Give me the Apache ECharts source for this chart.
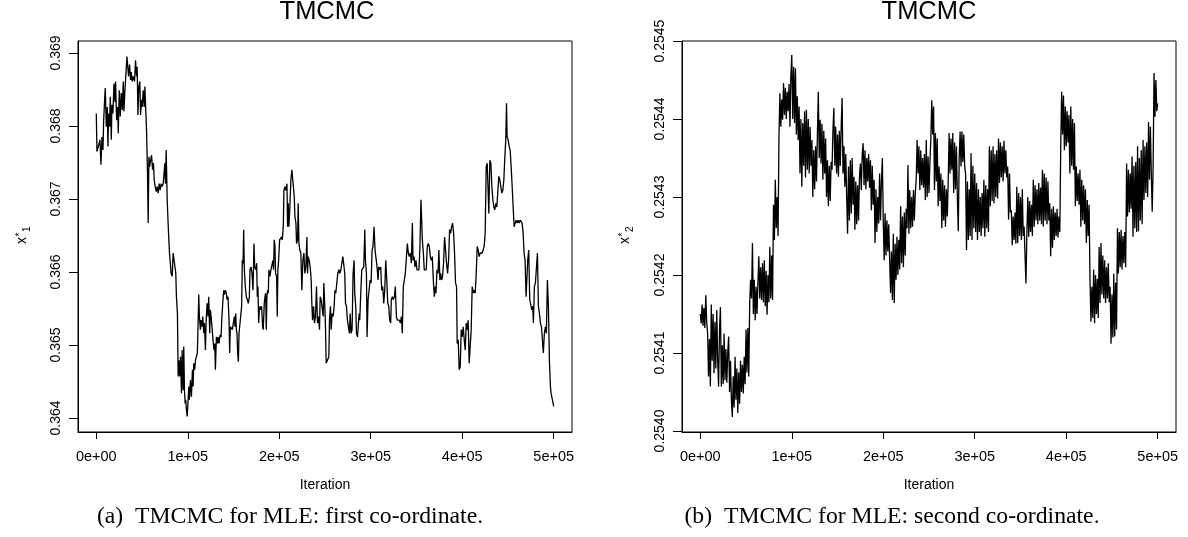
<!DOCTYPE html>
<html>
<head>
<meta charset="utf-8">
<script src="https://cdn.jsdelivr.net/npm/echarts@6/dist/echarts.min.js"></script>
<style>
  html, body { margin: 0; padding: 0; background: #fff; }
  #chart { width: 1188px; height: 537px; }
</style>
</head>
<body>
<div id="chart"></div>
<script>
// tick positions / labels
const xTicks = [0, 100000, 200000, 300000, 400000, 500000];
const y1Ticks = [0.364, 0.365, 0.366, 0.367, 0.368, 0.369];
const y2Ticks = [0.2540, 0.2541, 0.2542, 0.2543, 0.2544, 0.2545];
const titles = ['TMCMC', 'TMCMC'];
const captions = ['(a)\u2002TMCMC for MLE: first co-ordinate.', '(b)\u2002TMCMC for MLE: second co-ordinate.'];

// (a) first co-ordinate: iteration / value
const iter1 = [
  0, 700, 2500, 4000, 5100, 6200, 7300, 8000, 9100, 9800, 10900, 12000, 12700, 13500, 14500, 15300,
  16400, 17100, 18200, 19300, 20400, 21100, 22200, 23300, 24000, 25100, 26200, 27300, 28400, 29500,
  30200, 31300, 32400, 33500, 34500, 35300, 36400, 37500, 38200, 39300, 40400, 41800, 42900, 44000,
  44700, 45500, 46500, 47600, 48400, 49500, 50200, 51300, 52400, 53100, 53800, 54900, 56000, 56700,
  57500, 58200, 59300, 60400, 61500, 62500, 63300, 64400, 65500, 66500, 67600, 68700, 69800, 70900,
  72000, 73100, 74200, 74900, 75600, 76400, 77500, 78200, 79300, 80000, 81100, 81800, 82900, 84000,
  85100, 85800, 86900, 87600, 88700, 89500, 90200, 91300, 92000, 93100, 93800, 94900, 95600, 96400,
  97100, 97800, 98500, 99300, 100000, 101100, 101800, 102900, 104000, 105100, 105800, 106500, 107600,
  108400, 109500, 110500, 111300, 112000, 112700, 113800, 114500, 115600, 116400, 117500, 118200,
  119300, 120000, 121100, 122200, 122900, 124000, 124700, 125500, 126500, 127600, 128700, 129500,
  130200, 131300, 132400, 133100, 134200, 135300, 136400, 137100, 138200, 139300, 140000, 141100,
  142200, 142900, 144000, 145100, 145800, 146500, 147600, 148700, 149800, 150900, 151600, 152400,
  153100, 153800, 154500, 155300, 156000, 157100, 157800, 158900, 159600, 160400, 161100, 161800,
  162900, 164000, 165100, 166200, 167300, 168000, 169100, 170200, 171300, 172400, 173100, 174200,
  175300, 176000, 176700, 177500, 178200, 178900, 179600, 180700, 181800, 182500, 183600, 184400,
  185100, 185800, 186500, 187300, 188000, 188700, 189800, 190900, 192000, 193100, 193800, 194500,
  195300, 196000, 197100, 197800, 198500, 199300, 200400, 201500, 202500, 203300, 204400, 205100,
  206200, 207300, 208400, 209100, 209800, 210500, 211600, 212700, 213800, 214900, 215600, 216400,
  217100, 218200, 218900, 220000, 220700, 221500, 222500, 223600, 224700, 225800, 226900, 228000,
  229100, 230200, 230900, 231600, 232700, 233800, 234900, 235600, 236400, 237500, 238500, 239600,
  240700, 241800, 242900, 244000, 244700, 245800, 246900, 248000, 248700, 249800, 250500, 251300,
  252000, 253100, 254200, 254900, 256000, 256700, 257800, 258900, 260000, 260800, 261800, 262900,
  264000, 265100, 266200, 267300, 268400, 269500, 270600, 271600, 272400, 273500, 274500, 275600,
  276700, 277500, 278500, 279600, 280700, 281800, 282500, 283600, 284400, 285500, 286500, 287300,
  288000, 289100, 290200, 291300, 292400, 293500, 294200, 295300, 296000, 297100, 298200, 299300,
  300400, 301500, 302500, 303600, 304700, 305800, 306900, 308000, 308700, 309800, 310900, 312000,
  313100, 314200, 315300, 316400, 317500, 318600, 319700, 320700, 321800, 322500, 323600, 324700,
  325800, 326900, 328000, 329100, 330200, 331300, 332400, 333500, 334500, 335600, 336700, 337800,
  338900, 340000, 341100, 342200, 343300, 344400, 345500, 346200, 347300, 348400, 349500, 350500,
  351600, 352700, 353800, 354900, 355600, 356400, 357500, 358500, 359600, 360700, 361800, 362900,
  364000, 365100, 366200, 367300, 368400, 369500, 370600, 371300, 372400, 373500, 374500, 375600,
  376400, 377500, 378500, 379600, 380700, 381800, 382900, 384000, 385100, 386200, 387300, 388400,
  389500, 390600, 391600, 392700, 393800, 394500, 395600, 396700, 397800, 398900, 400000, 401100,
  402200, 403300, 404400, 405500, 406500, 407600, 408700, 409800, 410900, 412000, 413100, 414200,
  415300, 416400, 417500, 418500, 419600, 420700, 421800, 422900, 424000, 425100, 426200, 427300,
  428400, 429100, 430200, 431300, 432400, 433500, 434500, 435600, 436700, 437800, 438900, 440000,
  441100, 442200, 443300, 444400, 445500, 446600, 447600, 448400, 449100, 450200, 451300, 452400,
  453500, 454600, 455700, 456700, 457800, 458900, 460000, 461100, 462200, 463300, 464400, 465500,
  466600, 467600, 468700, 469800, 470600, 471600, 472700, 473800, 474900, 476000, 477100, 477800,
  478900, 480000, 481100, 482200, 483300, 484400, 485500, 486600, 487600, 488700, 489800, 490900,
  492000, 493100, 494200, 495300, 496400, 497100, 498200, 500000
];
const x1 = [
  0.36817, 0.36765, 0.36765, 0.36781, 0.36747, 0.36785, 0.36767, 0.36806, 0.36836, 0.36852, 0.36799, 0.36826, 0.36772, 0.36817, 0.36799, 0.36840,
  0.36781, 0.36829, 0.36817, 0.36858, 0.36833, 0.36861, 0.36808, 0.36826, 0.36790, 0.36849, 0.36813, 0.36845, 0.36822, 0.36861,
  0.36820, 0.36849, 0.36872, 0.36895, 0.36897, 0.36868, 0.36884, 0.36863, 0.36874, 0.36861, 0.36868, 0.36861, 0.36890, 0.36868,
  0.36881, 0.36815, 0.36854, 0.36861, 0.36815, 0.36836, 0.36826, 0.36849, 0.36826, 0.36854, 0.36831, 0.36795, 0.36735, 0.36667,
  0.36758, 0.36744, 0.36753, 0.36760, 0.36740, 0.36749, 0.36726, 0.36717, 0.36710, 0.36717, 0.36708, 0.36721, 0.36712, 0.36721,
  0.36717, 0.36721, 0.36737, 0.36749, 0.36721, 0.36767, 0.36699, 0.36676, 0.36644, 0.36626, 0.36626, 0.36598, 0.36594, 0.36626,
  0.36628, 0.36626, 0.36598, 0.36566, 0.36543, 0.36457, 0.36479, 0.36457, 0.36484, 0.36434, 0.36493, 0.36438, 0.36498, 0.36438,
  0.36420, 0.36425, 0.36411, 0.36402, 0.36416, 0.36443, 0.36425, 0.36452, 0.36429, 0.36466, 0.36443, 0.36475, 0.36466,
  0.36479, 0.36479, 0.36489, 0.36489, 0.36569, 0.36539, 0.36521, 0.36534, 0.36525, 0.36539, 0.36516, 0.36530,
  0.36493, 0.36530, 0.36557, 0.36539, 0.36566, 0.36516, 0.36548, 0.36539, 0.36539, 0.36507, 0.36493, 0.36502,
  0.36466, 0.36511, 0.36502, 0.36511, 0.36502, 0.36514, 0.36511, 0.36534, 0.36557, 0.36575, 0.36569, 0.36575,
  0.36571, 0.36562, 0.36566, 0.36534, 0.36489, 0.36525, 0.36525, 0.36521, 0.36530, 0.36539, 0.36525, 0.36543,
  0.36521, 0.36516, 0.36489, 0.36477, 0.36516, 0.36516, 0.36539, 0.36553, 0.36616, 0.36612, 0.36658, 0.36603,
  0.36580, 0.36566, 0.36562, 0.36557, 0.36566, 0.36603, 0.36607, 0.36598, 0.36575, 0.36639, 0.36607, 0.36603,
  0.36612, 0.36566, 0.36580, 0.36530, 0.36548, 0.36553, 0.36548, 0.36553, 0.36525, 0.36521, 0.36557, 0.36566,
  0.36571, 0.36521, 0.36566, 0.36575, 0.36571, 0.36603, 0.36594, 0.36603, 0.36603, 0.36616, 0.36603, 0.36644,
  0.36635, 0.36598, 0.36594, 0.36539, 0.36603, 0.36616, 0.36644, 0.36644, 0.36648, 0.36644, 0.36662, 0.36712,
  0.36717, 0.36712, 0.36721, 0.36662, 0.36694, 0.36662, 0.36689, 0.36726, 0.36740, 0.36740, 0.36740, 0.36703,
  0.36676, 0.36667, 0.36639, 0.36644, 0.36694, 0.36639, 0.36630, 0.36626, 0.36575, 0.36616, 0.36626, 0.36598,
  0.36607, 0.36648, 0.36598, 0.36621, 0.36616, 0.36607, 0.36589, 0.36557, 0.36534, 0.36553, 0.36530, 0.36539,
  0.36580, 0.36530, 0.36539, 0.36521, 0.36566, 0.36562, 0.36562, 0.36539, 0.36585, 0.36553, 0.36525, 0.36475,
  0.36473, 0.36475, 0.36484, 0.36534, 0.36553, 0.36521, 0.36543, 0.36539, 0.36553, 0.36575, 0.36571, 0.36571,
  0.36598, 0.36603, 0.36598, 0.36603, 0.36603, 0.36621, 0.36623, 0.36598, 0.36557, 0.36553, 0.36534, 0.36525,
  0.36516, 0.36543, 0.36516, 0.36521, 0.36598, 0.36616, 0.36571, 0.36553, 0.36516, 0.36511, 0.36511, 0.36543,
  0.36534, 0.36571, 0.36603, 0.36603, 0.36607, 0.36658, 0.36616, 0.36598, 0.36511, 0.36562, 0.36562, 0.36589,
  0.36585, 0.36630, 0.36635, 0.36662, 0.36630, 0.36632, 0.36607, 0.36589, 0.36607, 0.36603, 0.36607, 0.36575,
  0.36580, 0.36557, 0.36575, 0.36616, 0.36589, 0.36557, 0.36553, 0.36534, 0.36530, 0.36562, 0.36566, 0.36562,
  0.36566, 0.36580, 0.36539, 0.36534, 0.36534, 0.36534, 0.36530, 0.36539, 0.36516, 0.36580, 0.36580, 0.36598,
  0.36598, 0.36639, 0.36626, 0.36621, 0.36626, 0.36612, 0.36667, 0.36616, 0.36621, 0.36607, 0.36616, 0.36603,
  0.36603, 0.36603, 0.36635, 0.36699, 0.36699, 0.36644, 0.36626, 0.36603, 0.36603, 0.36603, 0.36635, 0.36639,
  0.36635, 0.36621, 0.36616, 0.36621, 0.36589, 0.36566, 0.36580, 0.36571, 0.36603, 0.36598, 0.36630, 0.36589,
  0.36598, 0.36589, 0.36594, 0.36612, 0.36648, 0.36648, 0.36612, 0.36598, 0.36616, 0.36658, 0.36653, 0.36662,
  0.36667, 0.36653, 0.36626, 0.36585, 0.36580, 0.36502, 0.36507, 0.36466, 0.36470, 0.36521, 0.36511, 0.36525,
  0.36507, 0.36493, 0.36530, 0.36521, 0.36534, 0.36475, 0.36475, 0.36521, 0.36580, 0.36571, 0.36575, 0.36571,
  0.36598, 0.36635, 0.36630, 0.36621, 0.36626, 0.36626, 0.36626, 0.36630, 0.36635, 0.36653, 0.36744, 0.36749,
  0.36749, 0.36680, 0.36753, 0.36749, 0.36717, 0.36699, 0.36689, 0.36685, 0.36694, 0.36689, 0.36689, 0.36731,
  0.36726, 0.36717, 0.36708, 0.36712, 0.36726, 0.36758, 0.36781, 0.36831, 0.36785, 0.36781, 0.36772, 0.36767,
  0.36744, 0.36717, 0.36717, 0.36662, 0.36662, 0.36671, 0.36667, 0.36671, 0.36667, 0.36671, 0.36671, 0.36667,
  0.36653, 0.36626, 0.36616, 0.36566, 0.36566, 0.36616, 0.36630, 0.36562, 0.36562, 0.36548, 0.36553, 0.36530,
  0.36580, 0.36585, 0.36585, 0.36626, 0.36553, 0.36543, 0.36530, 0.36525, 0.36525, 0.36489, 0.36516, 0.36525,
  0.36516, 0.36589, 0.36553, 0.36479, 0.36443, 0.36434, 0.36434, 0.36416
];

// (b) second co-ordinate, one reading every 1000 iterations
const thin2 = 1000;
const x2 = [
  0.254150, 0.254138, 0.254162, 0.254135, 0.254158, 0.254132, 0.254174, 0.254140, 0.254125, 0.254070,
  0.254118, 0.254057, 0.254162, 0.254090, 0.254150, 0.254074, 0.254140, 0.254080, 0.254155, 0.254090,
  0.254057, 0.254130, 0.254159, 0.254057, 0.254110, 0.254060, 0.254125, 0.254065, 0.254105, 0.254062,
  0.254100, 0.254121, 0.254050, 0.254090, 0.254040, 0.254018, 0.254070, 0.254030, 0.254095, 0.254040,
  0.254080, 0.254023, 0.254075, 0.254035, 0.254090, 0.254050, 0.254085, 0.254048, 0.254095, 0.254060,
  0.254130, 0.254075, 0.254132, 0.254070, 0.254164, 0.254194, 0.254170, 0.254241, 0.254150, 0.254194,
  0.254142, 0.254185, 0.254150, 0.254190, 0.254224, 0.254170, 0.254210, 0.254168, 0.254215, 0.254165,
  0.254219, 0.254160, 0.254205, 0.254149, 0.254200, 0.254165, 0.254236, 0.254170, 0.254225, 0.254168,
  0.254290, 0.254245, 0.254322, 0.254260, 0.254300, 0.254250, 0.254377, 0.254433, 0.254390, 0.254425,
  0.254399, 0.254446, 0.254405, 0.254440, 0.254400, 0.254435, 0.254410, 0.254445, 0.254390, 0.254455,
  0.254482, 0.254400, 0.254467, 0.254395, 0.254465, 0.254380, 0.254429, 0.254373, 0.254416, 0.254330,
  0.254400, 0.254313, 0.254395, 0.254340, 0.254410, 0.254325, 0.254412, 0.254335, 0.254400, 0.254330,
  0.254390, 0.254340, 0.254373, 0.254300, 0.254360, 0.254310, 0.254365, 0.254320, 0.254380, 0.254435,
  0.254350, 0.254399, 0.254343, 0.254394, 0.254322, 0.254385, 0.254330, 0.254375, 0.254300, 0.254347,
  0.254288, 0.254340, 0.254295, 0.254345, 0.254335, 0.254386, 0.254414, 0.254340, 0.254390, 0.254330,
  0.254380, 0.254326, 0.254385, 0.254340, 0.254390, 0.254427, 0.254330, 0.254365, 0.254313, 0.254355,
  0.254300, 0.254253, 0.254339, 0.254270, 0.254347, 0.254279, 0.254350, 0.254290, 0.254326, 0.254258,
  0.254320, 0.254265, 0.254315, 0.254270, 0.254326, 0.254343, 0.254309, 0.254355, 0.254369, 0.254315,
  0.254360, 0.254310, 0.254350, 0.254320, 0.254355, 0.254312, 0.254347, 0.254283, 0.254340, 0.254290,
  0.254322, 0.254241, 0.254310, 0.254255, 0.254300, 0.254266, 0.254330, 0.254270, 0.254320, 0.254350,
  0.254270, 0.254219, 0.254279, 0.254225, 0.254270, 0.254230, 0.254265, 0.254220, 0.254177, 0.254230,
  0.254168, 0.254253, 0.254164, 0.254240, 0.254194, 0.254249, 0.254200, 0.254245, 0.254207, 0.254288,
  0.254215, 0.254275, 0.254210, 0.254280, 0.254225, 0.254285, 0.254260, 0.254341, 0.254253, 0.254309,
  0.254260, 0.254300, 0.254262, 0.254309, 0.254270, 0.254305, 0.254322, 0.254373, 0.254330, 0.254365,
  0.254309, 0.254360, 0.254315, 0.254350, 0.254312, 0.254355, 0.254296, 0.254373, 0.254300, 0.254352,
  0.254305, 0.254345, 0.254373, 0.254424, 0.254380, 0.254416, 0.254309, 0.254382, 0.254320, 0.254375,
  0.254288, 0.254339, 0.254295, 0.254330, 0.254260, 0.254322, 0.254270, 0.254315, 0.254262, 0.254310,
  0.254275, 0.254320, 0.254382, 0.254330, 0.254375, 0.254335, 0.254382, 0.254305, 0.254370, 0.254310,
  0.254365, 0.254300, 0.254256, 0.254350, 0.254384, 0.254339, 0.254384, 0.254345, 0.254380, 0.254340,
  0.254330, 0.254232, 0.254320, 0.254245, 0.254310, 0.254250, 0.254356, 0.254245, 0.254340, 0.254260,
  0.254330, 0.254255, 0.254318, 0.254245, 0.254310, 0.254255, 0.254300, 0.254250, 0.254305, 0.254260,
  0.254322, 0.254249, 0.254315, 0.254260, 0.254310, 0.254255, 0.254365, 0.254288, 0.254360, 0.254295,
  0.254365, 0.254292, 0.254355, 0.254300, 0.254360, 0.254298, 0.254375, 0.254318, 0.254370, 0.254325,
  0.254365, 0.254320, 0.254372, 0.254330, 0.254360, 0.254325, 0.254339, 0.254271, 0.254330, 0.254280,
  0.254283, 0.254238, 0.254275, 0.254245, 0.254280, 0.254240, 0.254313, 0.254241, 0.254305, 0.254250,
  0.254300, 0.254245, 0.254310, 0.254250, 0.254262, 0.254224, 0.254189, 0.254255, 0.254300, 0.254249,
  0.254295, 0.254255, 0.254290, 0.254250, 0.254322, 0.254262, 0.254315, 0.254270, 0.254310, 0.254265,
  0.254318, 0.254270, 0.254312, 0.254265, 0.254335, 0.254262, 0.254330, 0.254270, 0.254325, 0.254265,
  0.254320, 0.254270, 0.254292, 0.254224, 0.254285, 0.254235, 0.254288, 0.254245, 0.254280, 0.254250,
  0.254285, 0.254248, 0.254275, 0.254255, 0.254365, 0.254435, 0.254380, 0.254430, 0.254360, 0.254416,
  0.254365, 0.254410, 0.254370, 0.254405, 0.254330, 0.254416, 0.254340, 0.254400, 0.254335, 0.254395,
  0.254288, 0.254339, 0.254295, 0.254330, 0.254290, 0.254335, 0.254262, 0.254322, 0.254270, 0.254315,
  0.254265, 0.254310, 0.254241, 0.254296, 0.254250, 0.254290, 0.254194, 0.254140, 0.254185, 0.254145,
  0.254207, 0.254138, 0.254200, 0.254150, 0.254195, 0.254145, 0.254236, 0.254164, 0.254241, 0.254175,
  0.254225, 0.254170, 0.254219, 0.254164, 0.254210, 0.254170, 0.254215, 0.254165, 0.254185, 0.254112,
  0.254175, 0.254120, 0.254202, 0.254121, 0.254190, 0.254130, 0.254260, 0.254202, 0.254255, 0.254210,
  0.254258, 0.254207, 0.254250, 0.254215, 0.254255, 0.254210, 0.254343, 0.254275, 0.254335, 0.254280,
  0.254330, 0.254285, 0.254352, 0.254249, 0.254340, 0.254260, 0.254345, 0.254255, 0.254365, 0.254256,
  0.254350, 0.254270, 0.254360, 0.254265, 0.254373, 0.254296, 0.254365, 0.254305, 0.254370, 0.254300,
  0.254396, 0.254322, 0.254390, 0.254330, 0.254281, 0.254340, 0.254459, 0.254403, 0.254450, 0.254410,
  0.254420
];

const fontSans = '"Liberation Sans", Arial, Helvetica, sans-serif';
const fontSerif = '"Liberation Serif", "Times New Roman", serif';

const series1 = iter1.map((it, i) => [it, x1[i]]);
const series2 = x2.map((v, i) => [i * thin2, v]);

function fmtIter(v) {
  return v === 0 ? '0e+00' : (v / 100000) + 'e+05';
}

function xAxisFor(gi) {
  return {
    gridIndex: gi, type: 'value', min: -20000, max: 520000,
    axisLine: { show: true, onZero: false, lineStyle: { color: '#000', width: 1 } },
    axisTick: { show: true, length: 7, lineStyle: { color: '#000' }, customValues: xTicks },
    axisLabel: { customValues: xTicks, formatter: fmtIter, color: '#000', fontSize: 14.5, fontFamily: fontSans, margin: 17 },
    splitLine: { show: false },
    name: 'Iteration', nameLocation: 'middle', nameGap: 46,
    nameTextStyle: { color: '#000', fontSize: 14, fontFamily: fontSans }
  };
}

function yAxisFor(gi, min, max, ticks, digits) {
  return {
    gridIndex: gi, type: 'value', min: min, max: max,
    axisLine: { show: true, onZero: false, lineStyle: { color: '#000', width: 1 } },
    axisTick: { show: true, length: 9, lineStyle: { color: '#000' }, customValues: ticks },
    axisLabel: {
      customValues: ticks, rotate: 90, margin: 15,
      formatter: v => v.toFixed(digits),
      color: '#000', fontSize: 14, fontFamily: fontSans
    },
    splitLine: { show: false }
  };
}

// y-axis title x*_k, drawn rotated (local "up" points left on screen)
function yName(cx, cy, k) {
  return {
    type: 'group', x: cx, y: cy, rotation: Math.PI / 2,
    children: [
      { type: 'text', x: -8, y: 0, style: { text: 'x', fontSize: 14, fontFamily: fontSans, fill: '#000', textAlign: 'left', textVerticalAlign: 'middle' } },
      { type: 'text', x: -0.5, y: -2, style: { text: '*', fontSize: 10, fontFamily: fontSans, fill: '#000', textAlign: 'left', textVerticalAlign: 'middle' } },
      { type: 'text', x: 4, y: 5, style: { text: String(k), fontSize: 10, fontFamily: fontSans, fill: '#000', textAlign: 'left', textVerticalAlign: 'middle' } }
    ]
  };
}

function centreText(x, y, text, size, family) {
  return { type: 'text', x: x, y: y, style: { text: text, fontSize: size, fontFamily: family, fill: '#000', textAlign: 'center', textVerticalAlign: 'middle' } };
}

const chart = echarts.init(document.getElementById('chart'), null, { renderer: 'canvas' });
chart.setOption({
  animation: false,
  backgroundColor: '#fff',
  grid: [
    { left: 78, top: 41, width: 494, height: 391, show: true, borderColor: '#000', borderWidth: 1, containLabel: false },
    { left: 682, top: 41, width: 494, height: 391, show: true, borderColor: '#000', borderWidth: 1, containLabel: false }
  ],
  xAxis: [xAxisFor(0), xAxisFor(1)],
  yAxis: [
    yAxisFor(0, 0.363808, 0.369164, y1Ticks, 3),
    yAxisFor(1, 0.2539987, 0.2545, y2Ticks, 4)
  ],
  series: [
    { type: 'line', xAxisIndex: 0, yAxisIndex: 0, data: series1, showSymbol: false, silent: true,
      lineStyle: { color: '#000', width: 1.3 } },
    { type: 'line', xAxisIndex: 1, yAxisIndex: 1, data: series2, showSymbol: false, silent: true,
      lineStyle: { color: '#000', width: 1.3 } }
  ],
  graphic: [
    centreText(327, 12, titles[0], 25.5, fontSans),
    centreText(929, 12, titles[1], 25.5, fontSans),
    centreText(290, 517, captions[0], 23.7, fontSerif),
    centreText(892, 517, captions[1], 23.7, fontSerif),
    yName(22, 236, 1),
    yName(625, 236, 2)
  ]
});
</script>
</body>
</html>
